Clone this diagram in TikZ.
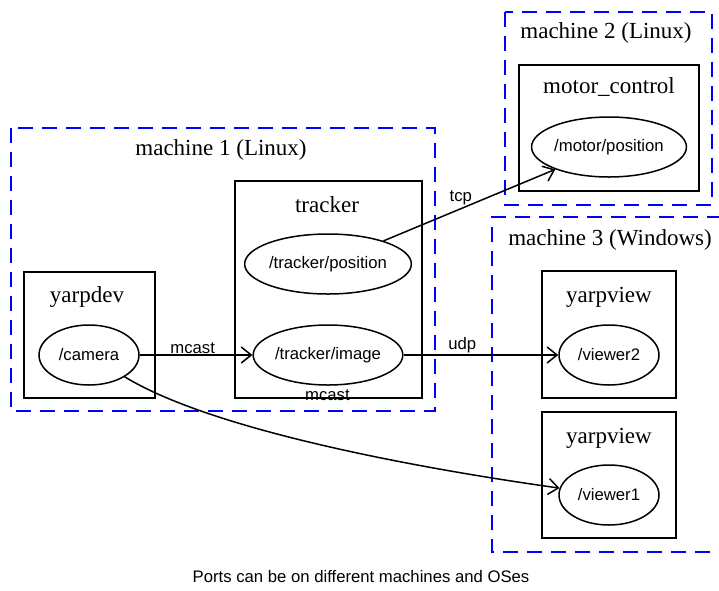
\documentclass[tikz,border=0pt]{standalone}
\usepackage{fontspec}
\setmainfont{Liberation Serif}
\setsansfont{Liberation Sans}
\usetikzlibrary{shapes.geometric,arrows.meta,positioning}

\tikzset{every picture/.style={line width=1.5pt}}

\begin{document}
\begin{tikzpicture}[x=1pt,y=1pt,yscale=-1,xscale=1,
  machine/.style={draw=blue, dash pattern=on 15pt off 9pt, line width=1.3pt},
  proc/.style={draw, line width=1.5pt, inner sep=0},
  port/.style={draw, ellipse, line width=1.5pt, inner sep=0, minimum height=60pt, font=\sffamily\fontsize{16.7}{20}\selectfont},
  ttl/.style={font=\fontsize{23}{27}\selectfont, inner sep=0},
  lbl/.style={font=\sffamily\fontsize{16.7}{20}\selectfont, inner sep=1pt},
  conn/.style={-{Straight Barb[length=10pt,width=16pt,line width=1.5pt]}, line width=1.5pt}]
\useasboundingbox (0,0) rectangle (719,590);

%machines
\draw [machine] (11,128) rectangle (435,411);
\draw [machine] (505,12) rectangle (712,205);
\draw [machine] (722,217) -- (492,217) -- (492,552) -- (722,552);
\node [ttl] (m1) at (221,150) {machine 1 (Linux)};
\node [ttl] (m2) at (606,33) {machine 2 (Linux)};
\node [ttl] (m3) at (610,240) {machine 3 (Windows)};

%processes
\node [proc, minimum width=131pt, minimum height=126pt] (dev) at (89.5,335) {};
\node [proc, minimum width=187pt, minimum height=217pt] (trk) at (328.5,289.5) {};
\node [proc, minimum width=180pt, minimum height=126pt] (ctl) at (609,128) {};
\node [proc, minimum width=134pt, minimum height=127pt] (view2) at (609,334.5) {};
\node [proc, minimum width=134pt, minimum height=126pt] (view1) at (609,475) {};
\node [ttl] (devt) at (87,297) {yarpdev};
\node [ttl] (trkt) at (327,205) {tracker};
\node [ttl] (ctlt) at (609,87) {motor\_control};
\node [ttl] (view2t) at (609,297) {yarpview};
\node [ttl] (view1t) at (609,438) {yarpview};

%ports
\node [port, minimum width=100pt] (cam) at (89,355) {/camera};
\node [port, minimum width=156pt] (tpos) at (328,264) {/tracker/position};
\node [port, minimum width=144pt] (timg) at (328,355) {/tracker/image};
\node [port, minimum width=146pt] (mpos) at (609,147) {/motor/position};
\node [port, minimum width=100pt] (v2) at (609,355) {/viewer2};
\node [port, minimum width=100pt] (v1) at (609,495) {/viewer1};

%connections
\draw [conn] (cam) -- (timg) node [lbl, pos=0.47, above] {mcast};
\draw [conn] (timg) -- (v2) node [lbl, pos=0.38, above] {udp};
\draw [conn] (tpos) -- (mpos) node [lbl, pos=0.45, above=2pt] {tcp};
\draw [conn] (cam) .. controls (215,432) and (430,470) .. (v1) node [lbl, pos=0.5, above=44pt] {mcast};

\node [lbl] (caption) at (361,577) {Ports can be on different machines and OSes};
\end{tikzpicture}
\end{document}
